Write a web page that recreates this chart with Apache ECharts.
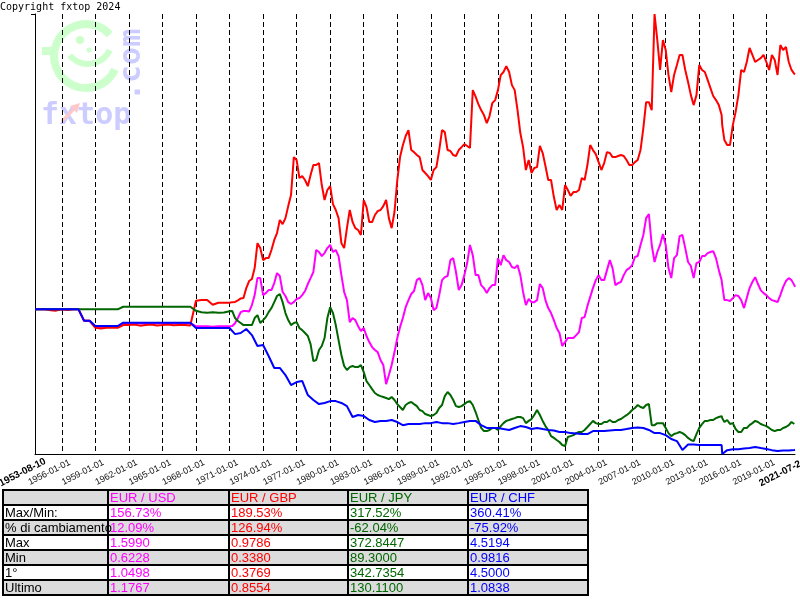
<!DOCTYPE html>
<html>
<head>
<meta charset="utf-8">
<script src="https://cdn.jsdelivr.net/npm/echarts@6/dist/echarts.min.js"></script>
<style>html,body{margin:0;padding:0;background:#fff}#c{width:800px;height:600px}</style>
</head>
<body>
<div id="c"></div>
<script>
// ---- DATA (index: first quote = 100) ----
const startDate = '1953-08-10';
const endDate = '2021-07-24';
const dates = ['1953-08-10',
'1954-01-01','1954-07-01','1955-01-01','1955-07-01','1956-01-01','1956-07-01','1957-01-01','1957-07-01','1958-01-01','1958-07-01','1959-01-01','1959-07-01',
'1960-01-01','1960-07-01','1961-01-01','1961-07-01','1962-01-01','1962-07-01','1963-01-01','1963-07-01','1964-01-01','1964-07-01','1965-01-01','1965-07-01','1966-01-01','1966-07-01','1967-01-01','1967-07-01','1968-01-01','1968-07-01','1969-01-01','1969-07-01',
'1970-01-01','1970-07-01','1971-01-01','1971-07-01','1972-01-01','1972-07-01','1973-01-01','1973-07-01','1974-01-01','1974-07-01','1975-01-01','1975-07-01','1976-01-01','1976-07-01','1977-01-01','1977-07-01','1978-01-01','1978-07-01','1979-01-01','1979-07-01',
'1980-01-01','1980-07-01','1981-01-01','1981-07-01','1982-01-01','1982-07-01','1983-01-01','1983-07-01','1984-01-01','1984-07-01','1985-01-01','1985-07-01','1986-01-01','1986-07-01','1987-01-01','1987-07-01','1988-01-01','1988-07-01','1989-01-01','1989-07-01',
'1990-01-01','1990-07-01','1991-01-01','1991-07-01','1992-01-01','1992-07-01','1993-01-01','1993-07-01','1994-01-01','1994-07-01','1995-01-01','1995-07-01','1996-01-01','1996-07-01','1997-01-01','1997-07-01','1998-01-01','1998-07-01','1999-01-01','1999-07-01',
'2000-01-01','2000-07-01','2001-01-01','2001-07-01','2002-01-01','2002-07-01','2003-01-01','2003-07-01','2004-01-01','2004-07-01','2005-01-01','2005-07-01','2006-01-01','2006-07-01','2007-01-01','2007-07-01','2008-01-01','2008-07-01','2009-01-01','2009-07-01',
'2010-01-01','2010-07-01','2011-01-01','2011-07-01','2012-01-01','2012-07-01','2013-01-01','2013-07-01','2014-01-01','2014-07-01','2015-01-01','2015-01-20','2015-07-01','2016-01-01','2016-07-01','2017-01-01','2017-07-01','2018-01-01','2018-07-01','2019-01-01','2019-07-01',
'2020-01-01','2020-07-01','2021-01-01','2021-07-01',
'2021-07-24'];

const eurUsd = [100,
100,100, 100,100, 100,100, 100,100, 93.8,93.8, 90.5,90.5,
90.5,90.6, 90.5,92.4, 92.4,92.6, 92.3,92.5, 92.4,92.6, 92.3,92.4, 92.5,92.3, 92.4,92.6, 90.8,90.8, 90.8,90.6,
90.8,90.8, 90.8,92.5, 98.5,99.1, 102.3,116.9, 107.7,110.4, 114.2,118.0, 107.2,102.9, 105.6,107.7, 113.7,120.2, 131.0,130.4,
134.8,132.1, 118.5,105.0, 95.3,90.9, 89.9,82.3, 78.0,72.6, 59.6,69.9, 84.5,95.3, 105.0,109.9, 116.9,105.0, 106.1,100.7,
115.8,118.0, 127.7,110.4, 118.5,134.8, 118.5,113.1, 108.8,113.1, 127.7,129.3, 125.6,122.3, 118.5,102.3, 103.9,105.0, 111.5,100.7,
94.2,87.2, 82.3,84.5, 86.1,95.3, 101.8,111.5, 118.5,115.8, 126.6,113.1, 114.8,121.2, 123.9,128.8, 140.2,151.5, 125.6,134.8,
134.8,116.9, 129.3,140.2, 125.6,116.9, 125.6,128.8, 131.0,127.7, 115.8,113.1,105.0, 106.1,107.2, 100.7,111.5, 117.4,110.4, 107.7,105.0,
103.9,112.0, 116.9,113.1,
112.1];

const eurGbp = [100,
100,100, 99.5,99.3, 100,99.6, 100,100, 93.8,93.8, 90.0,89.7,
90.0,90.2, 90.0,91.5, 91.5,91.8, 91.2,91.5, 91.8,91.3, 91.5,91.8, 91.4,91.6, 91.5,91.3, 104.6,105.0, 105.0,102.5,
103.6,103.6, 103.6,104.0, 105.9,111.5, 116.4,135.8, 126.6,127.7, 137.5,148.3, 149.3,161.8, 180.7,172.0, 166.6,178.0, 179.1,159.1,
166.6,153.7, 135.8,143.9, 147.2,142.9, 159.1,147.2, 151.0,153.7, 159.1,143.9, 169.9,188.7, 196.9,185.0, 182.3,173.7, 169.9,176.9,
196.9,186.1, 183.4,186.1, 189.3,187.2, 215.0,207.7, 200.7,211.5, 218.5,228.3, 228.3,218.5, 195.3,175.3, 173.7,176.9, 184.5,169.9,
160.7,156.4, 167.2,161.3, 163.4,171.0, 178.0,186.1, 179.6,179.1, 184.5,182.3, 183.4,180.7, 178.0,180.7, 198.0,212.0, 259.6,229.4,
240.2,217.5, 232.1,237.5, 222.9,210.4, 232.1,228.3, 219.6,213.1, 205.0,199.6,188.8, 199.6,215.8, 228.3,241.3, 233.7,235.8, 233.7,237.5,
226.7,240.2, 233.7,227.3,
227.0];

const eurJpy = [100,
100,100, 100,100, 100,100, 100,100, 100,100, 100,100,
100,100, 100,101.4, 101.4,101.4, 101.4,101.4, 101.4,101.4, 101.4,101.4, 101.4,101.4, 101.4,101.4, 99.2,98.4, 98.2,98.4,
98.2,98.3, 99.0,95.3, 92.6,91.5, 91.5,96.9, 94.2,98.5, 103.9,108.3, 98.0,91.5, 93.1,88.8, 85.6,72.0, 78.0,84.5,
101.2,91.5, 75.3,67.2, 69.4,68.8, 66.1,59.1, 54.8,53.1, 52.1,52.6, 48.8,45.6, 49.4,48.8, 45.6,43.4, 42.3,44.0,
48.3,55.3, 51.0,47.2, 48.8,50.4, 44.5,35.9, 34.2,35.9, 34.8,38.5, 40.2,41.2, 41.8,38.5, 40.7,45.6, 39.7,34.8,
30.5,28.3, 26.1,31.5, 33.1,33.7, 36.4,39.7, 38.0,39.1, 40.2,39.1, 40.7,42.8, 45.6,48.3, 46.7,48.8, 37.4,38.5,
35.9,31.5, 33.1,33.1, 30.5,28.8, 35.9,39.7, 40.2,41.2, 42.3,41.2,40.2, 38.5,33.7, 35.9,37.4, 39.7,38.0, 36.9,34.8,
34.8,35.9, 37.4,38.0,
38.0];

const eurChf = [100,
100,100, 100,100, 100,100, 100,100, 93.8,93.8, 91.0,91.0,
91.0,91.0, 91.0,92.8, 92.8,92.8, 92.8,92.8, 92.8,92.8, 92.8,92.8, 92.8,92.8, 92.8,92.8, 89.9,89.9, 89.9,89.9,
89.9,89.9, 89.9,86.6, 87.2,89.4, 86.1,80.2, 80.7,74.8, 68.3,68.3, 64.5,59.1, 60.7,61.3, 53.7,51.0, 48.8,49.4,
50.4,50.4, 49.4,47.7, 41.8,42.9, 42.3,40.2, 39.1,39.7, 39.7,40.2, 39.1,37.4, 38.0,38.0, 38.0,38.5, 38.5,39.1,
38.5,38.5, 38.0,38.5, 39.1,39.7, 39.7,37.4, 35.9,35.9, 35.9,35.3, 34.8,35.9, 36.9,36.4, 35.3,35.9, 35.3,34.8,
34.5,33.7, 33.7,33.1, 32.9,32.6, 32.6,34.2, 34.2,34.2, 34.5,34.8, 34.8,35.3, 35.9,36.1, 35.9,34.8, 33.1,33.1,
32.0,29.9, 28.8,24.0, 26.9,26.9, 26.7,26.7, 26.7,26.7, 26.7,21.8,23.9, 24.4,24.4, 24.8,25.0, 25.6,25.0, 24.5,23.9,
23.4,23.7, 23.7,24.0,
24.1];

// extra quarterly readings (April / October) from 1971 on
const datesQ = [
'1971-04-01','1971-10-01','1972-04-01','1972-10-01','1973-04-01','1973-10-01','1974-04-01','1974-10-01','1975-04-01','1975-10-01',
'1976-04-01','1976-10-01','1977-04-01','1977-10-01','1978-04-01','1978-10-01','1979-04-01','1979-10-01','1980-04-01','1980-10-01',
'1981-04-01','1981-10-01','1982-04-01','1982-10-01','1983-04-01','1983-10-01','1984-04-01','1984-10-01','1985-04-01','1985-10-01',
'1986-04-01','1986-10-01','1987-04-01','1987-10-01','1988-04-01','1988-10-01','1989-04-01','1989-10-01','1990-04-01','1990-10-01',
'1991-04-01','1991-10-01','1992-04-01','1992-10-01','1993-04-01','1993-10-01','1994-04-01','1994-10-01','1995-04-01','1995-10-01',
'1996-04-01','1996-10-01','1997-04-01','1997-10-01','1998-04-01','1998-10-01','1999-04-01','1999-10-01','2000-04-01','2000-10-01',
'2001-04-01','2001-10-01','2002-04-01','2002-10-01','2003-04-01','2003-10-01','2004-04-01','2004-10-01','2005-04-01','2005-10-01',
'2006-04-01','2006-10-01','2007-04-01','2007-10-01','2008-04-01','2008-10-01','2009-04-01','2009-10-01','2010-04-01','2010-10-01',
'2011-04-01','2011-10-01','2012-04-01','2012-10-01','2013-04-01','2013-10-01','2014-04-01','2014-10-01','2015-04-01','2015-10-01',
'2016-04-01','2016-10-01','2017-04-01','2017-10-01','2018-04-01','2018-10-01','2019-04-01','2019-10-01','2020-04-01','2020-10-01',
'2021-04-01'];

const eurUsdQ = [
91.0,95.3, 99.1,98.8, 107.7,116.9, 108.8,110.4, 119.6,109.4,
103.9,103.9, 106.1,109.9, 116.9,132.1, 128.8,133.1, 131.0,128.8,
109.4,93.1, 94.2,88.3, 85.6,79.6, 76.9,69.9, 64.5,76.9,
90.4,101.2, 108.3,115.8, 113.1,108.8, 99.6,107.7, 117.4,126.6,
120.2,113.1, 125.0,129.3, 118.5,111.5, 111.5,113.1, 123.9,126.6,
122.9,123.9, 109.4,105.6, 103.9,113.7, 105.0,98.0, 89.9,80.2,
84.5,84.5, 87.7,95.8, 106.6,115.8, 115.8,121.2, 122.3,114.2,
118.5,122.3, 128.3,134.8, 149.3,134.8, 131.0,140.7, 122.3,127.7,
139.6,133.1, 123.4,125.0, 128.8,130.4, 131.5,121.2, 105.0,104.5,
107.7,105.0, 106.1,114.8, 113.7,108.8, 106.1,104.5, 107.7,115.3,
115.8];

const eurGbpQ = [
103.9,104.8, 106.1,115.3, 122.3,133.1, 127.7,132.1, 141.2,146.1,
155.8,182.3, 171.0,169.9, 172.6,178.0, 167.2,164.5, 156.9,149.3,
133.1,153.7, 143.9,140.2, 155.3,147.2, 153.1,155.8, 149.3,152.6,
182.3,193.7, 186.1,183.4, 175.3,172.0, 175.3,186.1, 195.8,185.6,
182.9,187.7, 188.3,218.5, 210.9,205.0, 204.5,213.1, 226.6,231.5,
221.2,207.7, 187.7,180.7, 176.4,188.3, 177.5,169.9, 153.7,153.7,
164.5,163.4, 164.5,169.9, 188.8,183.9, 175.3,185.0, 182.3,182.9,
182.9,178.0, 179.6,186.1, 212.0,207.7, 245.6,245.6, 226.7,226.7,
237.5,229.4, 215.8,215.8, 229.4,224.0, 215.3,210.4, 191.5,188.8,
206.6,229.4, 233.7,237.5, 234.8,237.5, 229.4,234.8, 242.9,241.8,
229.4];

const eurJpyQ = [
99.1,93.7, 91.5,91.5, 95.3,92.6, 95.8,100.7, 107.2,103.9,
94.2,92.6, 89.9,87.2, 81.2,72.6, 80.2,95.3, 98.0,83.4,
69.4,68.8, 68.8,69.9, 61.2,56.9, 53.7,52.6, 51.5,51.0,
47.2,48.3, 49.9,47.7, 45.0,42.9, 42.9,46.7, 53.1,53.7,
47.7,47.7, 49.9,48.3, 40.2,34.2, 34.8,35.9, 36.9,39.7,
40.7,41.8, 41.2,39.7, 42.9,42.9, 36.9,31.5, 29.4,26.7,
31.0,32.0, 33.7,34.8, 38.0,38.5, 38.0,39.1, 39.1,40.2,
41.8,44.0, 46.7,47.2, 48.3,37.4, 38.5,38.5, 33.1,32.6,
33.7,32.0, 29.4,32.6, 38.0,39.7, 40.2,41.8, 39.1,38.0,
35.3,33.7, 35.9,38.5, 39.1,37.4, 35.9,34.2, 34.8,36.4,
39.1];

const tickDates = ['1956-01-01','1959-01-01','1962-01-01','1965-01-01','1968-01-01','1971-01-01','1974-01-01','1977-01-01',
'1980-01-01','1983-01-01','1986-01-01','1989-01-01','1992-01-01','1995-01-01','1998-01-01','2001-01-01','2004-01-01',
'2007-01-01','2010-01-01','2013-01-01','2016-01-01','2019-01-01'];

const seriesNames = ['EUR / USD', 'EUR / GBP', 'EUR / JPY', 'EUR / CHF'];
const rowLabels = ['Max/Min:', '% di cambiamento', 'Max', 'Min', '1°', 'Ultimo'];
const statUsd = ['156.73%', '12.09%', '1.5990', '0.6228', '1.0498', '1.1767'];
const statGbp = ['189.53%', '126.94%', '0.9786', '0.3380', '0.3769', '0.8554'];
const statJpy = ['317.52%', '-62.04%', '372.8447', '89.3000', '342.7354', '130.1100'];
const statChf = ['360.41%', '-75.92%', '4.5194', '0.9816', '4.5000', '1.0838'];

// y range: min and max of the indexed series (EUR/CHF min, EUR/GBP max)
const yMin = 0.9816 / 4.5 * 100;
const yMax = 0.9786 / 0.3769 * 100;

// ---- STYLE ----
const colors = ['#ff00ff', '#ff0000', '#006600', '#0000ff'];
const FONT = '"Liberation Sans", Arial, sans-serif';
const MONO = '"DejaVu Sans Mono", monospace';

function ts(s) { return Date.UTC(+s.slice(0, 4), +s.slice(5, 7) - 1, +s.slice(8, 10)); }
function pad(n) { return (n < 10 ? '0' : '') + n; }
function fmt(v) {
  const d = new Date(Math.round(v));
  const s = d.getUTCFullYear() + '-' + pad(d.getUTCMonth() + 1) + '-' + pad(d.getUTCDate());
  return (s === startDate || s === endDate) ? '{b|' + s + '}' : s;
}
const tMin = ts(startDate), tMax = ts(endDate);
const tickTs = tickDates.map(ts);

function buildData(main, extra) {
  const pts = dates.map((d, k) => [ts(d), main[k]]);
  if (extra) datesQ.forEach((d, k) => pts.push([ts(d), extra[k]]));
  pts.sort((a, b) => a[0] - b[0]);
  return pts;
}
const mains = [eurUsd, eurGbp, eurJpy, eurChf];
const extras = [eurUsdQ, eurGbpQ, eurJpyQ, null];
const series = mains.map((arr, i) => ({
  name: seriesNames[i],
  type: 'line',
  data: buildData(arr, extras[i]),
  showSymbol: false,
  symbol: 'none',
  clip: true,
  lineStyle: { color: colors[i], width: 2 },
  itemStyle: { color: colors[i] },
  emphasis: { disabled: true },
  z: 3
}));

// ---- table graphic ----
const colX = [3, 108, 229, 348, 468, 588];
const rowY = [490, 505, 520, 535, 550, 565, 580, 595];
const table = [];
for (let r = 0; r < 7; r++) {
  table.push({ type: 'rect', shape: { x: colX[0], y: rowY[r], width: colX[5] - colX[0], height: rowY[r + 1] - rowY[r] },
    style: { fill: r % 2 === 0 ? '#dcdcdc' : '#ffffff' }, z: 1 });
}
for (let r = 0; r < rowY.length; r++) {
  table.push({ type: 'line', shape: { x1: colX[0] - 1, y1: rowY[r], x2: colX[5] + 1, y2: rowY[r] }, style: { stroke: '#000', lineWidth: 2 }, z: 3 });
}
for (let c = 0; c < colX.length; c++) {
  table.push({ type: 'line', shape: { x1: colX[c], y1: rowY[0], x2: colX[c], y2: rowY[7] }, style: { stroke: '#000', lineWidth: 2 }, z: 3 });
}
function cellText(txt, c, r, color) {
  table.push({ type: 'text', x: colX[c] + 2, y: (rowY[r] + rowY[r + 1]) / 2 + 0.5, z: 4,
    style: { text: txt, fill: color, fontSize: 13, fontFamily: FONT, align: 'left', verticalAlign: 'middle' } });
}
seriesNames.forEach((n, i) => cellText(n, i + 1, 0, colors[i]));
const stats = [statUsd, statGbp, statJpy, statChf];
rowLabels.forEach((lab, r) => {
  cellText(lab, 0, r + 1, '#000');
  stats.forEach((s, i) => cellText(s[r], i + 1, r + 1, colors[i]));
});

// ---- watermark logo ----
const GREEN = '#ccffcc', LAV = '#ccccff';
const deg = Math.PI / 180;
const logo = [
  { type: 'arc', shape: { cx: 86, cy: 56, r: 32, startAngle: 25 * deg, endAngle: 318 * deg, clockwise: true }, style: { stroke: GREEN, lineWidth: 8, fill: null }, z: 0 },
  { type: 'arc', shape: { cx: 88, cy: 40, r: 24, startAngle: 25 * deg, endAngle: 140 * deg, clockwise: true }, style: { stroke: GREEN, lineWidth: 6, fill: null }, z: 0 },
  { type: 'circle', shape: { cx: 80, cy: 40, r: 4 }, style: { fill: GREEN }, z: 0 },
  { type: 'circle', shape: { cx: 89, cy: 50, r: 2.5 }, style: { fill: GREEN }, z: 0 },
  { type: 'rect', shape: { x: 42, y: 47, width: 16, height: 8 }, style: { fill: GREEN }, z: 0 },
  { type: 'text', x: 41, y: 131, z: 0, style: { text: 'fxtop', fontSize: 30, fontWeight: 'bold', fontFamily: MONO, fill: LAV, align: 'left', verticalAlign: 'bottom' } },
  { type: 'text', x: 147, y: 101, rotation: Math.PI / 2, z: 0, style: { text: '.com', fontSize: 30, fontWeight: 'bold', fontFamily: MONO, fill: LAV, align: 'left', verticalAlign: 'bottom' } },
  { type: 'line', shape: { x1: 62, y1: 121, x2: 76, y2: 107 }, style: { stroke: '#ffc8c8', lineWidth: 3 }, z: 0 },
  { type: 'polygon', shape: { points: [[80, 103], [70, 106], [77, 113]] }, style: { fill: '#ffc8c8' }, z: 0 },
  { type: 'text', x: 0, y: 2, z: 5, style: { text: 'Copyright fxtop 2024', fontSize: 10, fontFamily: MONO, fill: '#000', align: 'left', verticalAlign: 'top' } }
];

const chart = echarts.init(document.getElementById('c'), null, { renderer: 'canvas', width: 800, height: 600 });
chart.setOption({
  animation: false,
  backgroundColor: '#ffffff',
  grid: { left: 35, right: 5, top: 14, bottom: 146, containLabel: false, outerBoundsMode: 'none' },
  xAxis: {
    type: 'value',
    min: tMin,
    max: tMax,
    axisLine: { show: true, onZero: false, lineStyle: { color: '#000', width: 1 } },
    axisTick: { show: false, customValues: tickTs },
    splitLine: { show: true, lineStyle: { color: '#000', width: 1, type: [5, 3] } },
    axisLabel: {
      customValues: [tMin].concat(tickTs, [tMax]),
      rotate: 27, align: 'center', verticalAlign: 'middle',
      padding: [0, 28, 0, 0], margin: 12,
      fontSize: 9, color: '#111', fontFamily: FONT,
      formatter: fmt,
      rich: { b: { fontWeight: 'bold', fontSize: 10, color: '#000', fontFamily: FONT } }
    }
  },
  yAxis: {
    type: 'value', min: yMin, max: yMax,
    axisLine: { show: true, onZero: false, lineStyle: { color: '#000', width: 1 } },
    axisTick: { show: true, customValues: [yMax], length: 4, lineStyle: { color: '#000' } },
    axisLabel: { show: false },
    splitLine: { show: false }
  },
  series: series,
  graphic: { elements: logo.concat(table) }
});
</script>
</body>
</html>
